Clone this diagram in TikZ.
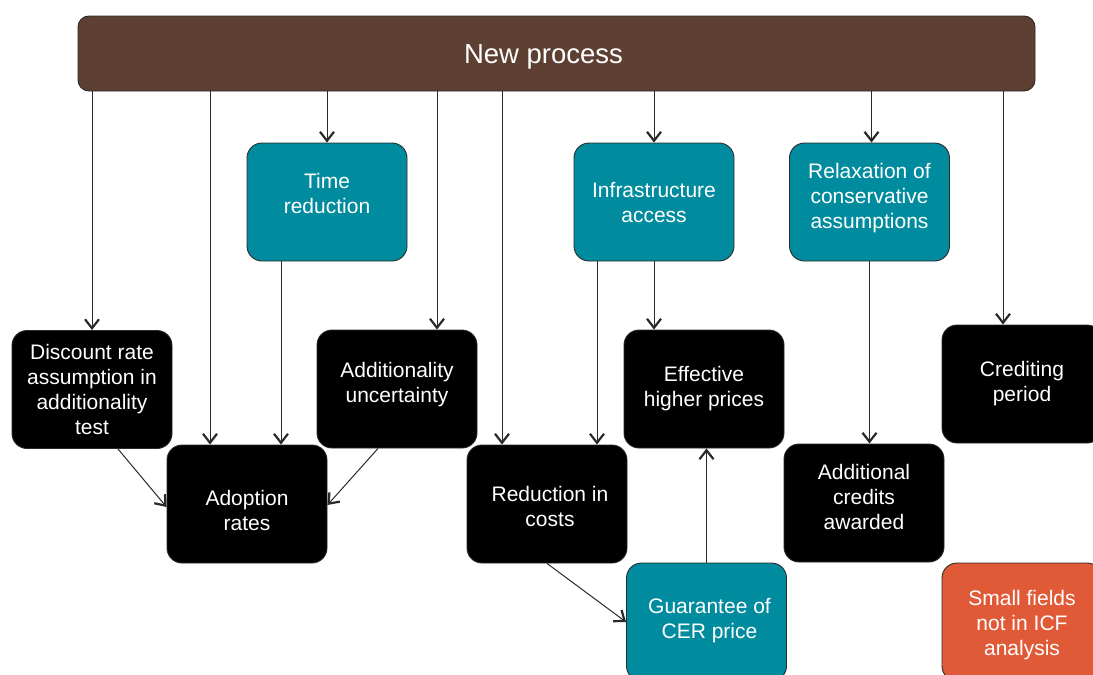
\documentclass[tikz,border=0pt]{standalone}
\usepackage{fontspec}
\setmainfont{Liberation Sans}
\usetikzlibrary{arrows.meta}
\definecolor{brownbar}{HTML}{5E4033}
\definecolor{tealbox}{HTML}{008C9E}
\definecolor{orangebox}{HTML}{E05A38}
\definecolor{edge}{HTML}{2A2A2A}
\begin{document}
\begin{tikzpicture}[x=1pt,y=-1pt,
  box/.style={draw=edge,line width=0.9pt,rounded corners=15pt,minimum width=160pt,minimum height=118pt,inner sep=0pt},
  blackbox/.style={box,fill=black},
  tealb/.style={box,fill=tealbox},
  orangeb/.style={box,fill=orangebox},
  txt/.style={text=white,align=center,font=\fontsize{21}{25}\selectfont,inner sep=0pt},
  arr/.style={draw=edge,line width=1pt,-{Straight Barb[length=9pt,width=14pt,line width=2.2pt 0 0]}}
]
\useasboundingbox (0,0) rectangle (1093,675);
\clip (0,0) rectangle (1093,675);
% top bar
\node[draw=edge,line width=0.9pt,fill=brownbar,rounded corners=11pt,minimum width=957pt,minimum height=75pt,inner sep=0pt,
  label={[text=white,inner sep=0pt,font=\fontsize{27.5}{30}\selectfont,xshift=-13pt,yshift=-3pt]center:New process}] (np) at (556.5,53.5) {};
% teal row
\node[tealb,label={[txt,yshift=9pt]center:Time\\reduction}] (tr) at (327,202) {};
\node[tealb,label={[txt,yshift=-1pt]center:Infrastructure\\access}] (ia) at (654,202) {};
\node[tealb,label={[txt,yshift=4pt]center:Relaxation of\\conservative\\assumptions}] (rc) at (869.5,202) {};
% middle row
\node[blackbox,label={[txt]center:Discount rate\\assumption in\\additionality\\test}] (dr) at (92,389.5) {};
\node[blackbox,label={[txt,yshift=4pt]center:Additionality\\uncertainty}] (au) at (397,389) {};
\node[blackbox,label={[txt]center:Effective\\higher prices}] (eh) at (704,389) {};
\node[blackbox,label={[txt]center:Crediting\\period}] (cp) at (1022,384) {};
% lower row
\node[blackbox,label={[txt,yshift=-6pt]center:Adoption\\rates}] (ad) at (247,504) {};
\node[blackbox,label={[txt,yshift=-2pt,xshift=3pt]center:Reduction in\\costs}] (rd) at (547,504) {};
\node[blackbox,label={[txt,yshift=6pt]center:Additional\\credits\\awarded}] (ac) at (864,503) {};
% bottom row
\node[tealb,label={[txt,yshift=1pt,xshift=3pt]center:Guarantee of\\CER price}] (gc) at (706.5,622) {};
\node[orangeb,label={[txt,yshift=-3pt]center:Small fields\\not in ICF\\analysis}] (sf) at (1022,622) {};
% arrows from New process
\draw[arr] (dr.north |- np.south) -- (dr.north);
\draw[arr] ([xshift=-37pt]ad.north |- np.south) -- ([xshift=-37pt]ad.north);
\draw[arr] (tr.north |- np.south) -- (tr.north);
\draw[arr] ([xshift=40pt]au.north |- np.south) -- ([xshift=40pt]au.north);
\draw[arr] ([xshift=-45pt]rd.north |- np.south) -- ([xshift=-45pt]rd.north);
\draw[arr] (ia.north |- np.south) -- (ia.north);
\draw[arr] ([xshift=2pt]rc.north |- np.south) -- ([xshift=2pt]rc.north);
\draw[arr] ([xshift=-19pt]cp.north |- np.south) -- ([xshift=-19pt]cp.north);
% other arrows
\draw[arr] ([xshift=-46pt]tr.south) -- ([xshift=-46pt]tr.south |- ad.north);
\draw[arr] ([xshift=-57pt]ia.south) -- ([xshift=-57pt]ia.south |- rd.north);
\draw[arr] (ia.south) -- (ia.south |- eh.north);
\draw[arr] (rc.south) -- (rc.south |- ac.north);
\draw[arr] ([xshift=26pt]dr.south) -- ([yshift=-3pt]ad.west);
\draw[arr] ([xshift=-19pt]au.south) -- ([yshift=-1pt]ad.east);
\draw[arr] (rd.south) -- (gc.west);
\draw[arr] (gc.north) -- (gc.north |- eh.south);
\end{tikzpicture}
\end{document}
